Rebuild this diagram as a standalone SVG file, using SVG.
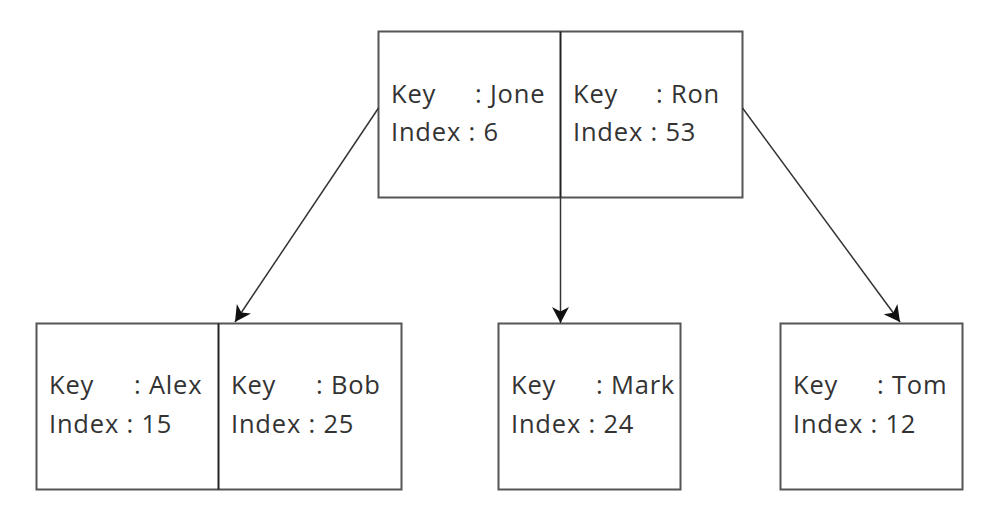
<svg xmlns="http://www.w3.org/2000/svg" width="992" height="514" viewBox="0 0 992 514">
<defs>
<marker id="arr" markerWidth="17" markerHeight="20" viewBox="0 0 17 20" refX="16" refY="10" orient="auto" markerUnits="userSpaceOnUse">
<path d="M0,1.5 L16,10 L0,18.5 L4.5,10 Z" fill="#111"/>
</marker>
<style>
.box{fill:#fff;stroke:#555;stroke-width:2}
.div{stroke:#222;stroke-width:2}
.t{font-family:"Open Sans","Noto Sans",sans-serif;font-size:25.5px;letter-spacing:0.8px;fill:#333}
.edge{stroke:#333;stroke-width:1.5;fill:none;marker-end:url(#arr)}
</style>
</defs>
<rect width="992" height="514" fill="#fff"/>
<g id="root">
<rect class="box" x="378.5" y="31.5" width="364" height="166"/>
<line class="div" x1="560.5" y1="31.5" x2="560.5" y2="197.5"/>
<text class="t" x="391" y="103">Key</text><text class="t" x="475" y="103">: Jone</text>
<text class="t" x="391" y="141">Index : 6</text>
<text class="t" x="573" y="103">Key</text><text class="t" x="656" y="103">: Ron</text>
<text class="t" x="573" y="141">Index : 53</text>
</g>
<g id="leaf1">
<rect class="box" x="36.5" y="323.5" width="365" height="166"/>
<line class="div" x1="218.5" y1="323.5" x2="218.5" y2="489.5"/>
<text class="t" x="49" y="394">Key</text><text class="t" x="134" y="394">: Alex</text>
<text class="t" x="49" y="433">Index : 15</text>
<text class="t" x="231" y="394">Key</text><text class="t" x="316" y="394">: Bob</text>
<text class="t" x="231" y="433">Index : 25</text>
</g>
<g id="leaf2">
<rect class="box" x="498.5" y="323.5" width="182" height="166"/>
<text class="t" x="511" y="394">Key</text><text class="t" x="596" y="394">: Mark</text>
<text class="t" x="511" y="433">Index : 24</text>
</g>
<g id="leaf3">
<rect class="box" x="780.5" y="323.5" width="182" height="166"/>
<text class="t" x="793" y="394">Key</text><text class="t" x="877" y="394">: Tom</text>
<text class="t" x="793" y="433">Index : 12</text>
</g>
<g id="edges">
<line class="edge" x1="378.5" y1="108" x2="235" y2="322"/>
<line class="edge" x1="560.5" y1="197.5" x2="560.5" y2="323"/>
<line class="edge" x1="742.5" y1="108" x2="900" y2="322"/>
</g>
</svg>
